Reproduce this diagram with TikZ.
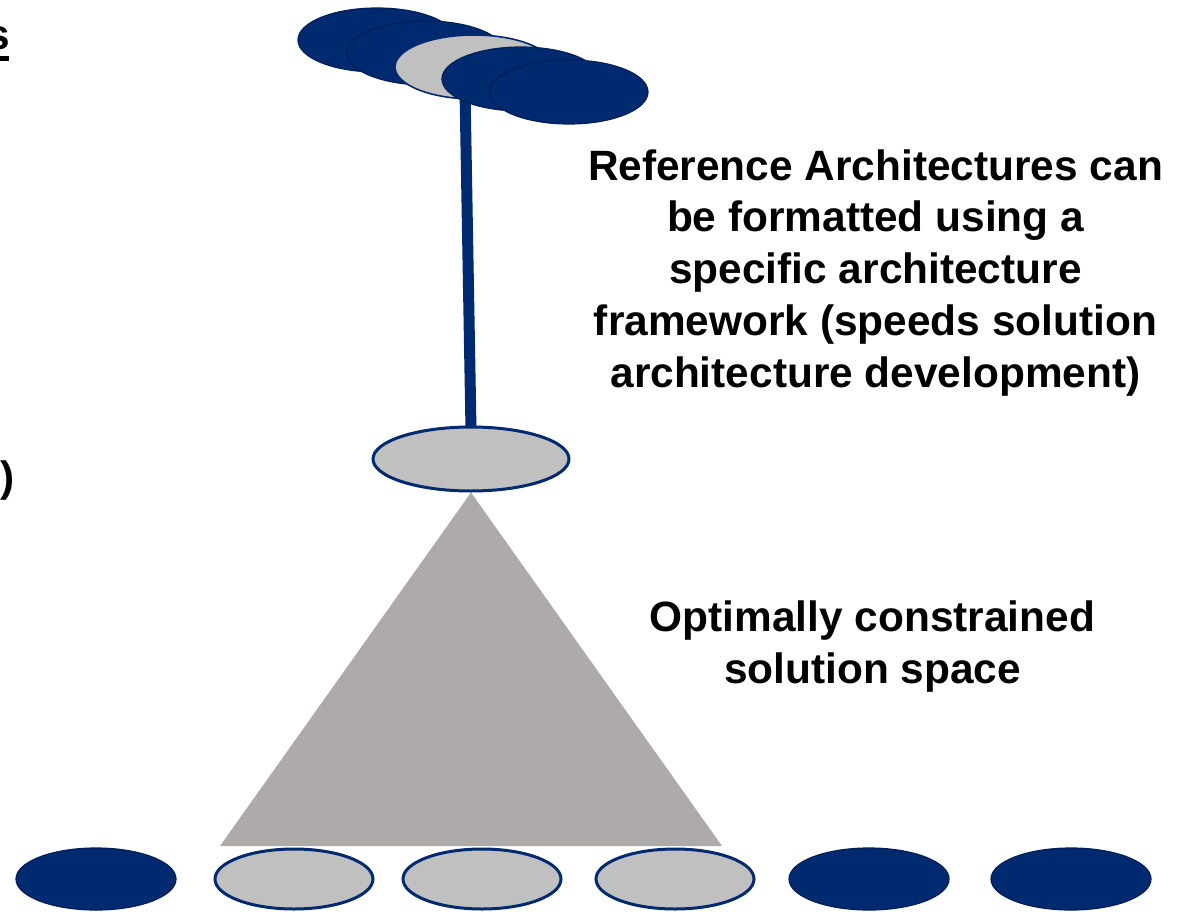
\documentclass[tikz,border=0pt]{standalone}
\usepackage{fontspec}
\setmainfont{Liberation Sans}
\usetikzlibrary{shapes.geometric}
\definecolor{navy}{RGB}{0,42,112}
\definecolor{navyedge}{RGB}{0,30,88}
\definecolor{lgray}{RGB}{192,192,192}
\definecolor{tgray}{RGB}{173,170,169}
\tikzset{
  topblue/.style={ellipse, draw=navyedge, line width=1.2pt, fill=navy, inner sep=0pt, minimum width=158pt, minimum height=64pt},
  topgray/.style={ellipse, draw=navy, line width=1.6pt, fill=lgray, inner sep=0pt, minimum width=158pt, minimum height=64pt},
  midgray/.style={ellipse, draw=navy, line width=3pt, fill=lgray, inner sep=0pt, minimum width=196pt, minimum height=64pt},
  botblue/.style={ellipse, draw=navyedge, line width=1.2pt, fill=navy, inner sep=0pt, minimum width=160pt, minimum height=62pt},
  botgray/.style={ellipse, draw=navy, line width=3pt, fill=lgray, inner sep=0pt, minimum width=158pt, minimum height=60pt},
  stem/.style={draw=navy, line width=11pt},
  tri/.style={fill=tgray},
  lbl/.style={font=\fontsize{42.4}{51.75}\selectfont\bfseries, align=center, inner sep=0pt},
}
\begin{document}
\begin{tikzpicture}[x=1pt, y=-1pt]
\useasboundingbox (0,0) rectangle (1177,912);
% clipped fragments of text at the left edge
\node[lbl, anchor=base west] (sfrag) at (-14,50) {s};
\fill (-20,56) rectangle (9,61);
\node[lbl, anchor=base west] (pfrag) at (0,491) {)};
% stem, then middle ellipse
\coordinate (stemtop) at (465,90);
\coordinate (midtop) at (471,430);
\draw[stem] (stemtop) -- (midtop);
\node[midgray] (mid) at (471,459) {};
% top cluster
\node[topblue] (t1) at (377,40) {};
\node[topblue] (t2) at (426,53) {};
\node[topgray] (t3) at (474,67) {};
\node[topblue] (t4) at (521,79) {};
\node[topblue] (t5) at (569,92) {};
% triangle
\coordinate (bl) at (220,846);
\coordinate (br) at (722,846);
\fill[tri] (mid.south) -- (br) -- (bl) -- cycle;
% bottom row
\node[botblue] (b1) at (96,879) {};
\node[botgray] (b2) at (294,879) {};
\node[botgray] (b3) at (482,879) {};
\node[botgray] (b4) at (675,879) {};
\node[botblue] (b5) at (869,879) {};
\node[botblue] (b6) at (1071,879) {};
% labels (anchor=base is the baseline of the last line)
\node[lbl, anchor=base] (ra) at (875.5,387) {Reference Architectures can\\be formatted using a\\specific architecture\\framework (speeds solution\\architecture development)};
\node[lbl, anchor=base] (ocs) at (872.5,683) {Optimally constrained\\solution space};
\end{tikzpicture}
\end{document}
